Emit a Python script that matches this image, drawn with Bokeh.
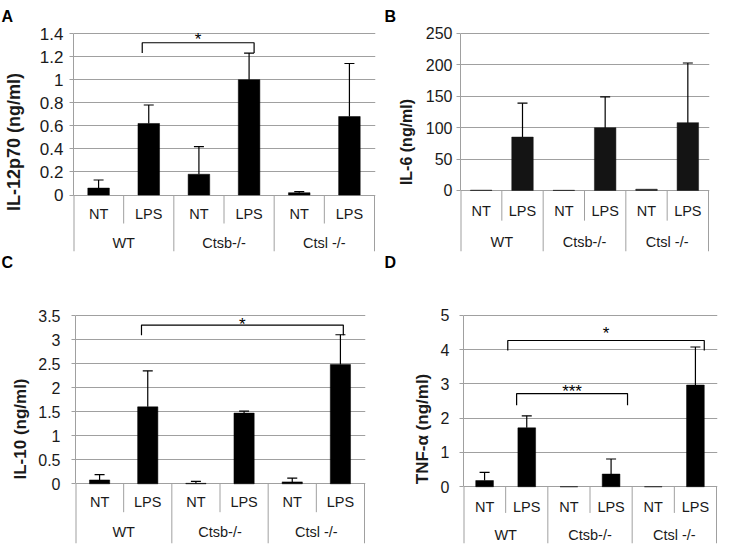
from bokeh.plotting import figure
from bokeh.models import Range1d, FixedTicker, ColumnDataSource, Whisker, TeeHead, LabelSet, Title
from bokeh.layouts import row, column
from bokeh.embed import file_html
from bokeh.resources import INLINE
from bokeh.core.properties import value

# ---------------- data ----------------
groups = ["WT", "Ctsb-/-", "Ctsl -/-"]
treatments = ["NT", "LPS"]

# Panel A: IL-12p70 (ng/ml)
il12_mean = [0.06, 0.62, 0.18, 1.00, 0.02, 0.68]
il12_err = [0.07, 0.16, 0.24, 0.23, 0.01, 0.46]
il12_ticks = [0, 0.2, 0.4, 0.6, 0.8, 1.0, 1.2, 1.4]
il12_tick_labels = ["0", "0.2", "0.4", "0.6", "0.8", "1", "1.2", "1.4"]
il12_sig_from = [1.37]
il12_sig_to = [3.60]
il12_sig_top = [1.32]
il12_sig_leg = [1.232]
il12_sig_star_y = [1.38]
il12_sig_text = ["*"]

# Panel B: IL-6 (ng/ml)
il6_mean = [0.5, 85, 0.3, 100, 2, 108]
il6_err = [0, 54, 0, 49, 0, 95]
il6_ticks = [0, 50, 100, 150, 200, 250]
il6_tick_labels = ["0", "50", "100", "150", "200", "250"]

# Panel C: IL-10 (ng/ml)
il10_mean = [0.08, 1.60, 0.01, 1.47, 0.04, 2.48]
il10_err = [0.11, 0.75, 0.04, 0.04, 0.08, 0.62]
il10_ticks = [0, 0.5, 1.0, 1.5, 2.0, 2.5, 3.0, 3.5]
il10_tick_labels = ["0", "0.5", "1", "1.5", "2", "2.5", "3", "3.5"]
il10_sig_from = [1.37]
il10_sig_to = [5.56]
il10_sig_top = [3.30]
il10_sig_leg = [3.09]
il10_sig_star_y = [3.39]
il10_sig_text = ["*"]

# Panel D: TNF-alpha (ng/ml)
tnf_mean = [0.18, 1.72, 0.0, 0.37, 0.0, 2.97]
tnf_err = [0.24, 0.35, 0.0, 0.44, 0.0, 1.11]
tnf_ticks = [0, 1, 2, 3, 4, 5]
tnf_tick_labels = ["0", "1", "2", "3", "4", "5"]
tnf_sig_from = [1.05, 1.26]
tnf_sig_to = [5.71, 3.89]
tnf_sig_top = [4.27, 2.72]
tnf_sig_leg = [3.98, 2.38]
tnf_sig_star_y = [4.59, 2.91]
tnf_sig_text = ["*", "***"]

# ---------------- style ----------------
FONT = "Liberation Sans"
GRID = "#a0a0a0"
TEXT = "#1a1a1a"


def letter_title(text, offset, standoff, valign):
    return Title(text=text, align="left", offset=offset, vertical_align=valign,
                 standoff=standoff, text_font=FONT, text_font_style="bold",
                 text_font_size="16px", text_color="black")


def make_panel(ylabel, means, errs, ticks, tick_labels, sig, g):
    W, H = g["w"], g["h"]
    left, top, right, zero, bottom = g["left"], g["top"], g["right"], g["zero"], g["bottom"]
    ncat = len(groups) * len(treatments)
    ymax = ticks[-1]
    upp = ymax / (zero - top)
    ymin = -(bottom - zero) * upp
    xupp = ncat / (right - left - 1)

    p = figure(width=W, height=H,
               x_range=Range1d(0, ncat + xupp), y_range=Range1d(ymin, ymax + upp),
               x_axis_location=None,
               output_backend="svg", toolbar_location=None,
               min_border_left=left, min_border_right=W - right,
               min_border_top=top - 1, min_border_bottom=H - bottom)
    p.outline_line_color = None
    p.background_fill_color = "white"
    p.border_fill_color = "white"
    p.xgrid.visible = False

    p.yaxis.ticker = FixedTicker(ticks=ticks)
    p.ygrid.ticker = FixedTicker(ticks=ticks)
    p.yaxis.bounds = (0, ymax)
    p.yaxis.major_label_overrides = {t: l for t, l in zip(ticks, tick_labels)}
    p.yaxis.major_label_text_font = FONT
    p.yaxis.major_label_text_font_size = g["tick_font"]
    p.yaxis.major_label_text_color = TEXT
    p.yaxis.major_label_standoff = g["tick_standoff"]
    p.yaxis.major_tick_out = 4
    p.yaxis.major_tick_in = 0
    p.yaxis.major_tick_line_color = GRID
    p.yaxis.minor_tick_line_color = None
    p.yaxis.axis_line_color = GRID
    p.yaxis.axis_label = ylabel
    p.yaxis.axis_label_text_font = FONT
    p.yaxis.axis_label_text_font_style = "bold"
    p.yaxis.axis_label_text_font_size = g["label_font"]
    p.yaxis.axis_label_text_color = TEXT
    p.yaxis.axis_label_standoff = g["label_standoff"]
    p.ygrid.grid_line_color = GRID
    p.ygrid.grid_line_width = 1

    centers = [i + 0.5 for i in range(ncat)]
    sub_names = [t for _ in groups for t in treatments]

    # bars
    p.vbar(x=centers, top=means, width=g["bar_w"], fill_color=g["bar_color"],
           line_color=g["bar_color"], line_width=0.5)

    # error bars
    keep = [i for i in range(ncat) if errs[i] > 0]
    both = g["both_sided"]
    src = ColumnDataSource(dict(
        x=[centers[i] for i in keep],
        upper=[means[i] + errs[i] for i in keep],
        lower=[(means[i] - errs[i]) if both else means[i] for i in keep],
    ))
    w = Whisker(source=src, base="x", upper="upper", lower="lower", dimension="height",
                line_color="black", line_width=1.2,
                upper_head=TeeHead(size=10, line_color="black", line_width=1.2),
                lower_head=TeeHead(size=10, line_color="black", line_width=1.2) if both else None)
    p.add_layout(w)

    # category table below the axis
    short_y = -g["short"] * upp
    p.segment(x0=[0], y0=[0], x1=[0], y1=[ymin], line_color=GRID, line_width=2)
    sep_x = [float(k) for k in range(1, ncat + 1)]
    sep_bottom = [short_y if k % 2 == 1 else ymin for k in range(1, ncat + 1)]
    p.segment(x0=sep_x, y0=[0] * ncat, x1=sep_x, y1=sep_bottom, line_color=GRID, line_width=1)
    p.text(x=centers, y=[-g["sub"] * upp] * ncat, text=sub_names,
           text_align="center", text_baseline="middle", text_font=value(FONT),
           text_font_size=g["cat_font"], text_color=TEXT)
    gx = [2 * k + 1.0 for k in range(len(groups))]
    p.text(x=gx, y=[-g["grp"] * upp] * len(groups), text=groups,
           text_align="center", text_baseline="middle", text_font=value(FONT),
           text_font_size=g["cat_font"], text_color=TEXT)

    # significance brackets
    if sig is not None:
        x0s, x1s, tops, legs, stary, texts = sig
        xs = [[a, a, b, b] for a, b in zip(x0s, x1s)]
        ys = [[l, t, t, l] for t, l in zip(tops, legs)]
        p.multi_line(xs=xs, ys=ys, line_color="black", line_width=1.2)
        ssrc = ColumnDataSource(dict(x=[(a + b) / 2 for a, b in zip(x0s, x1s)], y=stary, text=texts))
        p.add_layout(LabelSet(x="x", y="y", text="text", source=ssrc,
                              text_align="center", text_baseline="middle",
                              text_font=value(FONT), text_font_size="17px",
                              text_color="black", y_offset=-4))
    return p


TOP_H = 296
BOT_H = 250

geomA = dict(w=380, h=TOP_H, left=72, top=33, right=375, zero=194.5, bottom=251,
             short=28.5, sub=18.5, grp=47.5, bar_w=0.43, bar_color="black", both_sided=False,
             tick_font="17px", label_font="18px", tick_standoff=6, label_standoff=13,
             cat_font="14.5px")
geomB = dict(w=338, h=TOP_H, left=80, top=32, right=329, zero=193.3, bottom=256,
             short=31, sub=21, grp=52.7, bar_w=0.52, bar_color="#141414", both_sided=True,
             tick_font="16px", label_font="16px", tick_standoff=4, label_standoff=8,
             cat_font="14.5px")
geomC = dict(w=380, h=BOT_H, left=75, top=315 - TOP_H, right=365, zero=483.3 - TOP_H, bottom=543 - TOP_H,
             short=28.4, sub=18.4, grp=47.7, bar_w=0.42, bar_color="black", both_sided=False,
             tick_font="16px", label_font="17px", tick_standoff=11, label_standoff=5,
             cat_font="14.5px")
geomD = dict(w=338, h=BOT_H, left=83, top=315 - TOP_H, right=337, zero=487 - TOP_H, bottom=544 - TOP_H,
             short=26.3, sub=20.3, grp=48, bar_w=0.42, bar_color="black", both_sided=False,
             tick_font="16px", label_font="17px", tick_standoff=10, label_standoff=6,
             cat_font="14.5px")

pA = make_panel("IL-12p70 (ng/ml)", il12_mean, il12_err, il12_ticks, il12_tick_labels,
                (il12_sig_from, il12_sig_to, il12_sig_top, il12_sig_leg, il12_sig_star_y, il12_sig_text), geomA)
pB = make_panel("IL-6 (ng/ml)", il6_mean, il6_err, il6_ticks, il6_tick_labels, None, geomB)
pC = make_panel("IL-10 (ng/ml)", il10_mean, il10_err, il10_ticks, il10_tick_labels,
                (il10_sig_from, il10_sig_to, il10_sig_top, il10_sig_leg, il10_sig_star_y, il10_sig_text), geomC)
pD = make_panel("TNF-α (ng/ml)", tnf_mean, tnf_err, tnf_ticks, tnf_tick_labels,
                (tnf_sig_from, tnf_sig_to, tnf_sig_top, tnf_sig_leg, tnf_sig_star_y, tnf_sig_text), geomD)

# panel letters: A/B above the top panels, C/D in the gap below them
pA.title = letter_title("A", 0 - geomA["left"], 12, "top")
pB.title = letter_title("B", 4 - geomB["left"], 12, "top")
pA.add_layout(letter_title("C", 0 - geomA["left"], 4, "top"), "below")
pB.add_layout(letter_title("D", 4 - geomB["left"], 4, "top"), "below")

layout = column(row(pA, pB), row(pC, pD))
open("out.html", "w").write(file_html(layout, INLINE))
